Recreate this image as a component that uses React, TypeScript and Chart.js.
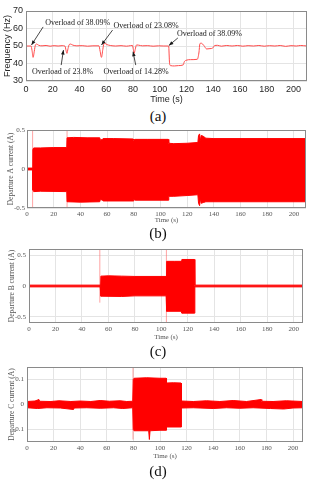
import React, { useEffect, useRef } from "react";
import { Chart, registerables } from "chart.js";
Chart.register(...registerables);

type P = [number, number];

const timeTicks = [0, 20, 40, 60, 80, 100, 120, 140, 160, 180, 200];
const freqTicks = [30, 40, 50, 60, 70];
const currentATicks = [-0.5, 0, 0.5];
const currentBTicks = [-0.5, 0, 0.5];
const currentCTicks = [-0.1, 0, 0.1];

// (a) frequency (Hz) vs time (s)
const frequency: P[] = [
  [0, 50], [3.8, 50], [4.5, 47.5], [5.3, 43.5], [6.2, 47], [7, 50.5], [8, 51.1], [9.5, 50.4],
  [12, 50.1], [15, 50.3], [18, 49.9], [21, 50.2], [24, 50], [27, 50.2], [29.2, 49.9], [29.9, 47.5],
  [30.6, 45.8], [31.4, 48.5], [32.3, 50.8], [33.3, 51.1], [35, 50.5], [38, 50.1], [42, 50.2],
  [46, 49.9], [50, 50.1], [54.5, 50.1], [55.4, 47], [56.4, 43.5], [57.4, 48], [58.2, 51.2],
  [59, 51.5], [60.5, 50.8], [63, 50.3], [67, 50], [71, 50.2], [75, 49.9], [78, 50.2], [79.6, 50.3],
  [80.2, 48], [80.8, 45.8], [81.6, 48], [82.6, 50.6], [84, 50.5], [87, 50.1], [91, 50.2], [95, 49.9],
  [99, 50.1], [103, 50], [106.6, 50], [107.3, 40], [108, 38.8], [111, 38.6], [114, 38.8],
  [117.5, 39.2], [118.3, 41], [119.5, 41.8], [123, 42.2], [128, 42.4], [129.2, 46], [130, 51.4],
  [131, 51.6], [133, 50.2], [135, 48.3], [137.5, 48.5], [139.5, 48.8], [141, 50.3], [143, 50.4],
  [146, 49.9], [150, 50.3], [154, 50], [158, 50.3], [162, 49.9], [166, 50.2], [170, 50], [174, 50.3],
  [178, 49.9], [182, 50.2], [186, 50], [190, 50.3], [194, 49.8], [198, 50.2], [202, 50], [205, 50.3],
  [210, 50],
];

const freqAnnotations = [
  { text: "Overload of 38.09%", at: [14.3, 63.3], tail: [12.8, 60.9], head: [4.1, 50.6] },
  { text: "Overload of 23.8%", at: [4.5, 35.3], tail: [26.3, 39.1], head: [28, 47.7] },
  { text: "Overload of 23.08%", at: [65.4, 61.4], tail: [64.7, 59.1], head: [56.4, 50.6] },
  { text: "Overload of 14.28%", at: [57.9, 35.3], tail: [82, 39.1], head: [80, 46.7] },
  { text: "Overload of 38.09%", at: [112.8, 56.7], tail: [113.5, 54.6], head: [106.8, 50.3] },
];

// (b) departure A current envelope (A)
const currentAUpper: P[] = [
  [0, 0.012], [4.2, 0.012], [4.4, 0.25], [5, 0.27], [10, 0.27], [20, 0.275], [29.8, 0.275],
  [30, 0.4], [35, 0.405], [45, 0.4], [54.5, 0.4], [55, 0.37], [56.5, 0.38], [57, 0.39], [65, 0.39],
  [79.5, 0.385], [80, 0.37], [81, 0.38], [90, 0.38], [105.8, 0.38], [106.2, 0.33], [110, 0.325],
  [120, 0.33], [128, 0.34], [128.5, 0.43], [129.3, 0.45], [129.8, 0.36], [130.5, 0.43], [132, 0.42],
  [134, 0.395], [140, 0.39], [209, 0.39],
];
const currentALower: P[] = [
  [0, -0.012], [4.2, -0.012], [4.4, -0.27], [5, -0.29], [10, -0.285], [29.8, -0.29], [30, -0.42],
  [40, -0.425], [54.5, -0.42], [55, -0.39], [56.5, -0.4], [57, -0.41], [79.5, -0.41], [80, -0.39],
  [81, -0.4], [105.8, -0.4], [106.2, -0.35], [110, -0.35], [120, -0.34], [128, -0.33], [128.5, -0.44],
  [129.3, -0.47], [129.8, -0.38], [130.5, -0.44], [132, -0.43], [134, -0.42], [209, -0.42],
];
const currentASpikes: [number, number, number][] = [[4.2, -0.6, 0.6], [30, -0.6, 0.6]];

// (c) departure B current envelope (A)
const currentBUpper: P[] = [
  [0, 0.014], [53.8, 0.014], [54.3, 0.16], [60, 0.165], [70, 0.16], [80, 0.155], [103.6, 0.155],
  [104, 0.4], [110, 0.4], [115, 0.4], [115.5, 0.43], [125, 0.43], [125.3, 0.014], [207, 0.014],
];
const currentBLower: P[] = [
  [0, -0.014], [53.8, -0.014], [54.3, -0.165], [70, -0.17], [80, -0.16], [103.6, -0.16],
  [104, -0.41], [115, -0.41], [115.5, -0.44], [125, -0.44], [125.3, -0.014], [207, -0.014],
];
const currentBSpikes: [number, number, number][] = [[53.5, -0.27, 0.6], [103.8, -0.6, 0.6]];

// (d) departure C current envelope (A)
const currentCUpper: P[] = [
  [0, 0.012], [6, 0.014], [9, 0.02], [9.5, 0.013], [18, 0.012], [24, 0.015], [33, 0.012], [40, 0.014],
  [48, 0.012], [55, 0.016], [62, 0.013], [70, 0.015], [75, 0.012], [79.5, 0.013], [79.9, 0.1],
  [80.5, 0.105], [90, 0.107], [100, 0.105], [104.6, 0.105], [104.9, 0.086], [110, 0.087],
  [115.8, 0.086], [116.1, 0.014], [125, 0.012], [135, 0.015], [145, 0.012], [155, 0.016],
  [165, 0.012], [176, 0.02], [176.5, 0.013], [185, 0.012], [195, 0.015], [207.5, 0.012],
];
const currentCLower: P[] = [
  [0, -0.013], [8, -0.016], [15, -0.013], [25, -0.014], [35, -0.02], [35.5, -0.014], [45, -0.013],
  [55, -0.015], [65, -0.013], [72, -0.016], [79.5, -0.013], [79.9, -0.1], [80.5, -0.105],
  [91.5, -0.105], [92, -0.14], [92.5, -0.105], [100, -0.103], [104.6, -0.103], [104.9, -0.09],
  [115.8, -0.09], [116.1, -0.014], [125, -0.013], [140, -0.016], [150, -0.013], [160, -0.015],
  [170, -0.013], [183, -0.016], [193, -0.018], [200, -0.014], [207.5, -0.013],
];
const currentCSpikes: [number, number, number][] = [[79.7, -0.14, 0.15]];

const GRID = "#e4e4e4";
const RED = "#ff0000";
const SANS = '"Liberation Sans", Arial, sans-serif';
const SERIF = '"Liberation Serif", "Times New Roman", serif';

const toXY = (arr: P[]) => arr.map(([x, y]) => ({ x, y }));

const boxPlugin = {
  id: "box",
  afterDraw(chart: any) {
    const { ctx, chartArea: a } = chart;
    ctx.save();
    ctx.strokeStyle = "#8a8a8a";
    ctx.lineWidth = 1;
    const l = Math.round(a.left) + 0.5;
    const t = Math.round(a.top) + 0.5;
    const r = Math.round(a.right) - 0.5;
    const b = Math.round(a.bottom) - 0.5;
    ctx.strokeRect(l, t, r - l, b - t);
    ctx.restore();
  },
};

const annotationPlugin = {
  id: "ann",
  afterDatasetsDraw(chart: any) {
    const { ctx } = chart;
    const xs = chart.scales.x;
    const ys = chart.scales.y;
    ctx.save();
    ctx.font = `8px ${SERIF}`;
    ctx.fillStyle = "#1a1a1a";
    ctx.strokeStyle = "#1a1a1a";
    ctx.textBaseline = "middle";
    ctx.textAlign = "left";
    for (const a of freqAnnotations) {
      ctx.fillText(a.text, xs.getPixelForValue(a.at[0]), ys.getPixelForValue(a.at[1]));
      const x1 = xs.getPixelForValue(a.tail[0]);
      const y1 = ys.getPixelForValue(a.tail[1]);
      const x2 = xs.getPixelForValue(a.head[0]);
      const y2 = ys.getPixelForValue(a.head[1]);
      ctx.lineWidth = 0.8;
      ctx.beginPath();
      ctx.moveTo(x1, y1);
      ctx.lineTo(x2, y2);
      ctx.stroke();
      const ang = Math.atan2(y2 - y1, x2 - x1);
      const L = 4.5, W = 1.8;
      const c = Math.cos(ang), s = Math.sin(ang);
      ctx.beginPath();
      ctx.moveTo(x2, y2);
      ctx.lineTo(x2 - L * c + W * s, y2 - L * s - W * c);
      ctx.lineTo(x2 - L * c - W * s, y2 - L * s + W * c);
      ctx.closePath();
      ctx.fill();
    }
    ctx.restore();
  },
};

interface Spec {
  padTop: number; padRight: number; yWidth: number; xHeight: number;
  xMax: number; yMin: number; yMax: number; yTicks: number[];
  tickFont: any; titleFont: any; yTitleFont: any; tickColor: string;
  yTitle: string; yTitlePad: number; xTitlePad: number; tickPadX: number; tickPadY: number;
  datasets: any[]; plugins?: any[];
}

function buildConfig(s: Spec): any {
  return {
    type: "line",
    data: { datasets: s.datasets },
    options: {
      responsive: false,
      animation: false,
      events: [],
      layout: { padding: { top: s.padTop, right: s.padRight, left: 0, bottom: 0 } },
      plugins: { legend: { display: false }, tooltip: { enabled: false } },
      elements: { point: { radius: 0 } },
      scales: {
        x: {
          type: "linear",
          min: 0,
          max: s.xMax,
          afterBuildTicks: (sc: any) => { sc.ticks = timeTicks.map((v) => ({ value: v })); },
          afterFit: (sc: any) => { sc.height = s.xHeight; sc.paddingLeft = 0; sc.paddingRight = 0; },
          ticks: { font: s.tickFont, color: s.tickColor, padding: s.tickPadX, maxRotation: 0, autoSkip: false, callback: (v: any) => String(v) },
          grid: { color: GRID, drawTicks: false, lineWidth: 1 },
          border: { display: false },
          title: { display: true, text: "Time (s)", font: s.titleFont, color: s.tickColor, padding: { top: 0, bottom: s.xTitlePad } },
        },
        y: {
          type: "linear",
          position: "left",
          min: s.yMin,
          max: s.yMax,
          afterBuildTicks: (sc: any) => { sc.ticks = s.yTicks.map((v) => ({ value: v })); },
          afterFit: (sc: any) => { sc.width = s.yWidth; sc.paddingTop = 0; sc.paddingBottom = 0; },
          ticks: { font: s.tickFont, color: s.tickColor, padding: s.tickPadY, autoSkip: false, callback: (v: any) => String(v) },
          grid: { color: GRID, drawTicks: false, lineWidth: 1 },
          border: { display: false },
          title: { display: true, text: s.yTitle, font: s.yTitleFont, color: s.tickColor, padding: { top: s.yTitlePad, bottom: 0 } },
        },
      },
    },
    plugins: [boxPlugin, ...(s.plugins || [])],
  };
}

function envelopeDatasets(upper: P[], lower: P[], spikes: [number, number, number][]) {
  const ds: any[] = [
    { data: toXY(upper), borderColor: RED, borderWidth: 1, pointRadius: 0, fill: false, tension: 0 },
    { data: toXY(lower), borderColor: RED, borderWidth: 1, pointRadius: 0, fill: "-1", backgroundColor: RED, tension: 0 },
  ];
  for (const [t, lo, hi] of spikes) {
    ds.push({ data: [{ x: t, y: lo }, { x: t, y: hi }], borderColor: "rgba(255,90,90,0.55)", borderWidth: 1, pointRadius: 0, fill: false });
  }
  return ds;
}

const serifTick = { family: SERIF, size: 7 };
const serifYTitle = { family: SERIF, size: 7.5 };

const specA: Spec = {
  padTop: 11, padRight: 3, yWidth: 26, xHeight: 25, xMax: 210, yMin: 30, yMax: 70, yTicks: freqTicks,
  tickFont: { family: SANS, size: 9 }, titleFont: { family: SANS, size: 9 }, yTitleFont: { family: SANS, size: 9 },
  tickColor: "#262626", yTitle: "Frequency (Hz)", yTitlePad: 2, xTitlePad: 1.5, tickPadX: 3, tickPadY: 3,
  datasets: [{ data: toXY(frequency), borderColor: "#ff4a4a", borderWidth: 1, pointRadius: 0, fill: false, cubicInterpolationMode: "monotone" }],
  plugins: [annotationPlugin],
};

const specB: Spec = {
  padTop: 10, padRight: 4, yWidth: 27, xHeight: 18, xMax: 209, yMin: -0.5, yMax: 0.5, yTicks: currentATicks,
  tickFont: serifTick, titleFont: serifTick, yTitleFont: serifYTitle, tickColor: "#555555",
  yTitle: "Departure A current (A)", yTitlePad: 6.7, xTitlePad: 1.3, tickPadX: 2, tickPadY: 2,
  datasets: envelopeDatasets(currentAUpper, currentALower, currentASpikes),
};

const specC: Spec = {
  padTop: 9, padRight: 7, yWidth: 29, xHeight: 19, xMax: 207, yMin: -0.6, yMax: 0.6, yTicks: currentBTicks,
  tickFont: serifTick, titleFont: serifTick, yTitleFont: serifYTitle, tickColor: "#555555",
  yTitle: "Departure B current (A)", yTitlePad: 7.7, xTitlePad: 1.1, tickPadX: 2, tickPadY: 3,
  datasets: envelopeDatasets(currentBUpper, currentBLower, currentBSpikes),
};

const specD: Spec = {
  padTop: 10, padRight: 7, yWidth: 27, xHeight: 19, xMax: 207.5, yMin: -0.15, yMax: 0.15, yTicks: currentCTicks,
  tickFont: serifTick, titleFont: serifTick, yTitleFont: serifYTitle, tickColor: "#555555",
  yTitle: "Departure C current (A)", yTitlePad: 7.7, xTitlePad: 0.8, tickPadX: 2, tickPadY: 3,
  datasets: envelopeDatasets(currentCUpper, currentCLower, currentCSpikes),
};

function Panel({ top, height, spec }: { top: number; height: number; spec: Spec }) {
  const ref = useRef<HTMLCanvasElement>(null);
  useEffect(() => {
    const chart = new Chart(ref.current as HTMLCanvasElement, buildConfig(spec));
    return () => chart.destroy();
  }, []);
  return (
    <canvas ref={ref} width={310} height={height}
      style={{ position: "absolute", left: 0, top, width: 310, height, display: "block" }} />
  );
}

function SubLabel({ text, y }: { text: string; y: number }) {
  return (
    <div style={{ position: "absolute", left: 0, width: 316, top: y - 9, height: 18, lineHeight: "18px",
      textAlign: "center", fontFamily: SERIF, fontSize: 15, color: "#111" }}>{text}</div>
  );
}

export default function App() {
  return (
    <div style={{ position: "absolute", left: 0, top: 0, width: 310, height: 480, background: "#fff", overflow: "hidden" }}>
      <Panel top={0} height={106} spec={specA} />
      <SubLabel text="(a)" y={116} />
      <Panel top={120} height={106} spec={specB} />
      <SubLabel text="(b)" y={233} />
      <Panel top={240} height={102} spec={specC} />
      <SubLabel text="(c)" y={351} />
      <Panel top={357} height={104} spec={specD} />
      <SubLabel text="(d)" y={471} />
    </div>
  );
}
